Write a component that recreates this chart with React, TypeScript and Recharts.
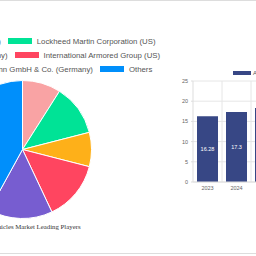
import React from "react";
import { PieChart, Pie, Cell, Legend, BarChart, Bar, XAxis, YAxis, CartesianGrid, LabelList, ReferenceLine } from "recharts";

const pieNames = [
  "General Dynamics (US)",
  "Lockheed Martin Corporation (US)",
  "Rheinmetall AG (Germany)",
  "International Armored Group (US)",
  "Krauss-Maffei Wegmann GmbH & Co. (Germany)",
  "Others",
];
const pieShares = [9, 12, 8, 14, 15, 42];
const pieColors = ["#F9A3A4", "#00E396", "#FEB019", "#FF4560", "#775DD0", "#008FFB"];
const pieTitle = "Armored Vehicles Market Leading Players";

const years = ["2023", "2024", "2025"];
const marketSize = [16.28, 17.3, 18.3];
const yTicks = [0, 5, 10, 15, 20, 25];
const barSeriesName = "Armored Vehicles Market Size (Billion)";
const barColor = "#374785";

const pieData = pieNames.map((name, i) => ({ name, value: pieShares[i], color: pieColors[i] }));
const barData = years.map((year, i) => ({ year, value: marketSize[i] }));

const FONT = "'Liberation Sans', Arial, sans-serif";

function PieLegend() {
  const rows: typeof pieData[] = [];
  for (let i = 0; i < pieData.length; i += 2) rows.push(pieData.slice(i, i + 2));
  return (
    <div style={{ width: 400, fontFamily: FONT }}>
      {rows.map((row, r) => (
        <div key={r} style={{ display: "flex", justifyContent: "center", alignItems: "center", height: 14, gap: 7 }}>
          {row.map((item) => (
            <div key={item.name} style={{ display: "flex", alignItems: "center", whiteSpace: "nowrap" }}>
              <span style={{ display: "inline-block", width: 24, height: 6, background: item.color, marginRight: 5 }} />
              <span style={{ fontSize: 7.8, color: "#555" }}>{item.name}</span>
            </div>
          ))}
        </div>
      ))}
    </div>
  );
}

function BarLegend() {
  return (
    <div style={{ display: "flex", alignItems: "center", whiteSpace: "nowrap", fontFamily: FONT }}>
      <span style={{ display: "inline-block", width: 18, height: 4.5, background: barColor, marginRight: 2 }} />
      <span style={{ fontSize: 6, color: "#555" }}>{barSeriesName}</span>
    </div>
  );
}

export default function App() {
  return (
    <div style={{ position: "fixed", left: 0, top: 0, width: 256, height: 256, overflow: "hidden", background: "#fff" }}>
      <div style={{ position: "absolute", left: 0, top: 0, width: 256, height: 1, background: "#ddd" }} />
      <div style={{ position: "absolute", left: 0, top: 253, width: 256, height: 1, background: "#ddd" }} />

      <div style={{ position: "absolute", left: -180, top: 0 }}>
        <PieChart width={400} height={256} margin={{ top: 0, right: 0, bottom: 0, left: 0 }}>
          <Legend
            layout="horizontal"
            verticalAlign="middle"
            align="center"
            content={() => <PieLegend />}
            wrapperStyle={{ left: 2.5, top: 34, width: 400 }}
          />
          <Pie
            data={pieData}
            dataKey="value"
            nameKey="name"
            cx={202.5}
            cy={149.5}
            outerRadius={69}
            startAngle={90}
            endAngle={-270}
            stroke="#fff"
            strokeWidth={1}
            isAnimationActive={false}
          >
            {pieData.map((d) => (
              <Cell key={d.name} fill={d.color} />
            ))}
          </Pie>
        </PieChart>
      </div>

      <div
        style={{
          position: "absolute",
          left: -177.5,
          width: 400,
          top: 223,
          textAlign: "center",
          fontFamily: "'Liberation Serif', 'Times New Roman', serif",
          fontSize: 6.8,
          lineHeight: "8px",
          color: "#333",
          whiteSpace: "nowrap",
        }}
      >
        {pieTitle}
      </div>

      <div style={{ position: "absolute", left: 160, top: 60 }}>
        <BarChart width={125} height={137} data={barData} margin={{ top: 21, right: 5, left: 8, bottom: 0 }}>
          <Legend
            layout="horizontal"
            verticalAlign="middle"
            align="center"
            content={() => <BarLegend />}
            wrapperStyle={{ left: 73, top: 10, width: "auto" }}
          />
          <CartesianGrid vertical={false} stroke="#e6e6e6" />
          {years.slice(1).map((y) => (
            <ReferenceLine key={y} x={y} position="start" stroke="#e6e6e6" ifOverflow="visible" />
          ))}
          <XAxis
            dataKey="year"
            height={15}
            tickSize={0}
            tickMargin={4}
            axisLine={{ stroke: "#ddd" }}
            tick={{ fontSize: 5.5, fill: "#666", fontFamily: FONT }}
          />
          <YAxis
            width={25}
            domain={[0, 25]}
            ticks={yTicks}
            interval={0}
            tickSize={2}
            tickMargin={3}
            axisLine={{ stroke: "#ddd" }}
            tickLine={{ stroke: "#ddd" }}
            tick={{ fontSize: 5.5, fill: "#666", fontFamily: FONT }}
          />
          <Bar dataKey="value" fill={barColor} barSize={21} isAnimationActive={false}>
            <LabelList dataKey="value" position="center" fill="#fff" fontSize={5.5} fontFamily={FONT} />
          </Bar>
        </BarChart>
      </div>
    </div>
  );
}
